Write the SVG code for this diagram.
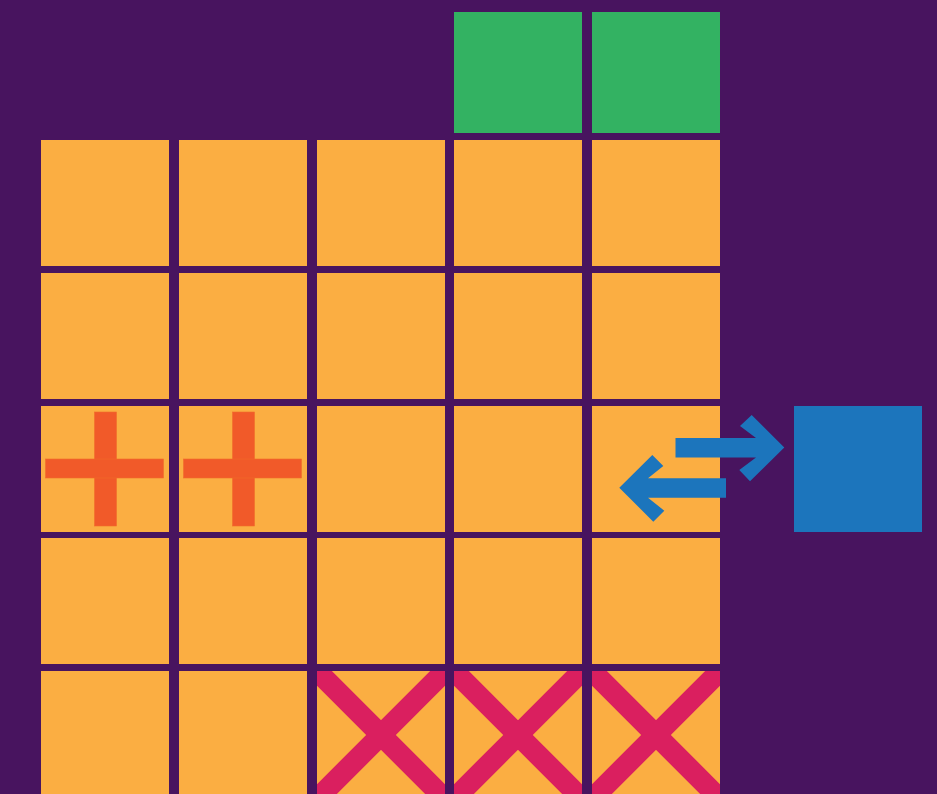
<svg xmlns="http://www.w3.org/2000/svg" width="937" height="794" viewBox="0 0 937 794">
<style>
.bg{fill:#48145F}
.cell{fill:#FBAE42}
.green{fill:#33B262}
.blue{fill:#1C75BC}
.plus{fill:#F15A29;stroke:#F26B2A;stroke-width:0.6}
.x{stroke:#DA1F5F;stroke-width:21;fill:none}
.arrow{fill:#1C75BC}
</style>
<defs>
<clipPath id="c3"><rect x="317" y="671" width="128" height="128"/></clipPath>
<clipPath id="c4"><rect x="454" y="671" width="128" height="128"/></clipPath>
<clipPath id="c5"><rect x="592" y="671" width="128" height="128"/></clipPath>
</defs>
<rect class="bg" x="0" y="0" width="937" height="794"/>
<g id="green-1"><rect class="green" x="454" y="12" width="128" height="121"/></g>
<g id="green-2"><rect class="green" x="592" y="12" width="128" height="121"/></g>
<g id="r1c1"><rect class="cell" x="41" y="140" width="128" height="126"/></g>
<g id="r1c2"><rect class="cell" x="179" y="140" width="128" height="126"/></g>
<g id="r1c3"><rect class="cell" x="317" y="140" width="128" height="126"/></g>
<g id="r1c4"><rect class="cell" x="454" y="140" width="128" height="126"/></g>
<g id="r1c5"><rect class="cell" x="592" y="140" width="128" height="126"/></g>
<g id="r2c1"><rect class="cell" x="41" y="273" width="128" height="126"/></g>
<g id="r2c2"><rect class="cell" x="179" y="273" width="128" height="126"/></g>
<g id="r2c3"><rect class="cell" x="317" y="273" width="128" height="126"/></g>
<g id="r2c4"><rect class="cell" x="454" y="273" width="128" height="126"/></g>
<g id="r2c5"><rect class="cell" x="592" y="273" width="128" height="126"/></g>
<g id="r3c1"><rect class="cell" x="41" y="406" width="128" height="126"/>
<rect class="plus" x="94.5" y="412" width="22" height="114"/>
<rect class="plus" x="45.5" y="459" width="118" height="19"/></g>
<g id="r3c2"><rect class="cell" x="179" y="406" width="128" height="126"/>
<rect class="plus" x="232.5" y="412" width="22" height="114"/>
<rect class="plus" x="183.5" y="459" width="118" height="19"/></g>
<g id="r3c3"><rect class="cell" x="317" y="406" width="128" height="126"/></g>
<g id="r3c4"><rect class="cell" x="454" y="406" width="128" height="126"/></g>
<g id="r3c5"><rect class="cell" x="592" y="406" width="128" height="126"/></g>
<g id="r4c1"><rect class="cell" x="41" y="538" width="128" height="126"/></g>
<g id="r4c2"><rect class="cell" x="179" y="538" width="128" height="126"/></g>
<g id="r4c3"><rect class="cell" x="317" y="538" width="128" height="126"/></g>
<g id="r4c4"><rect class="cell" x="454" y="538" width="128" height="126"/></g>
<g id="r4c5"><rect class="cell" x="592" y="538" width="128" height="126"/></g>
<g id="r5c1"><rect class="cell" x="41" y="671" width="128" height="128"/></g>
<g id="r5c2"><rect class="cell" x="179" y="671" width="128" height="128"/></g>
<g id="r5c3"><rect class="cell" x="317" y="671" width="128" height="128"/>
<g clip-path="url(#c3)"><path class="x" d="M317 671L445 799M445 671L317 799"/></g></g>
<g id="r5c4"><rect class="cell" x="454" y="671" width="128" height="128"/>
<g clip-path="url(#c4)"><path class="x" d="M454 671L582 799M582 671L454 799"/></g></g>
<g id="r5c5"><rect class="cell" x="592" y="671" width="128" height="128"/>
<g clip-path="url(#c5)"><path class="x" d="M592 671L720 799M720 671L592 799"/></g></g>
<g id="blue-node"><rect class="blue" x="794" y="406" width="128" height="126"/></g>
<g id="connectors">
<path class="arrow" d="M675.5 438H756L740 426L751.7 415L784.3 447.5L750 481.3L739.3 470L756 457.5H675.5Z"/>
<path class="arrow" d="M726 478.3H648L663.3 466L652.3 455L619.3 487.7L653.3 521.7L664.3 510.7L648 497.7H726Z"/>
</g>
</svg>
